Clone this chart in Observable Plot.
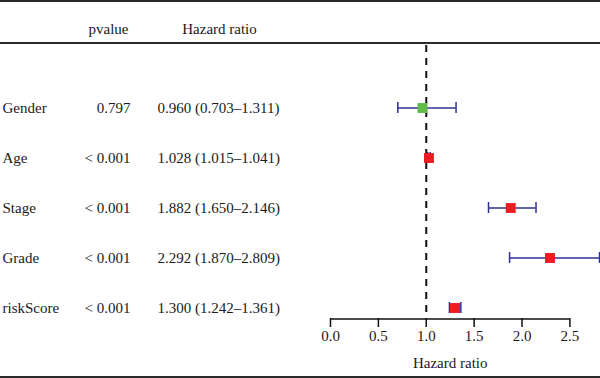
<!DOCTYPE html>
<html>
<head>
<meta charset="utf-8">
<script src="https://cdn.jsdelivr.net/npm/d3@7"></script>
<script src="https://cdn.jsdelivr.net/npm/@observablehq/plot@0.6"></script>
<style>
  html, body { margin: 0; padding: 0; background: #fff; }
  #wrap { position: relative; width: 600px; height: 378px; overflow: hidden; font-family: "Liberation Serif", serif; }
  .hline { position: absolute; left: 0; width: 600px; background: #2a2a2a; }
  #wrap svg { position: absolute; left: 0; top: 0; }
</style>
</head>
<body>
<div id="wrap">
  <div class="hline" style="top:0px;height:2px"></div>
  <div class="hline" style="top:42px;height:2px"></div>
  <div class="hline" style="top:376px;height:2px"></div>
</div>
<script>
const variables = ["Gender", "Age", "Stage", "Grade", "riskScore"];
const pvalues = ["0.797", "< 0.001", "< 0.001", "< 0.001", "< 0.001"];
const hazardRatio = [0.960, 1.028, 1.882, 2.292, 1.300];
const lower = [0.703, 1.015, 1.650, 1.870, 1.242];
const upper = [1.311, 1.041, 2.146, 2.809, 1.361];
const xTicks = [0, 0.5, 1.0, 1.5, 2.0, 2.5];
const headers = ["pvalue", "Hazard ratio"];
const axisTitle = "Hazard ratio";

const rows = variables.map((v, i) => ({
  name: v,
  p: pvalues[i],
  hr: hazardRatio[i],
  lo: lower[i],
  hi: upper[i],
  label: `${hazardRatio[i].toFixed(3)} (${lower[i].toFixed(3)}\u2013${upper[i].toFixed(3)})`,
  sig: pvalues[i].startsWith("<")
}));

const ink = "#1a1a1a";

const chart = Plot.plot({
  width: 600,
  height: 378,
  marginTop: 45,
  marginBottom: 60,
  marginLeft: 330,
  marginRight: 1,
  style: { fontFamily: "'Liberation Serif', serif", fontSize: "15px", color: ink, background: "transparent" },
  x: { domain: [0, d3.max(upper)], axis: null },
  y: { type: "band", domain: variables, range: [62.5, 351.5], padding: 0.78, axis: null },
  marks: [
    // reference line at HR = 1
    Plot.ruleX([1], { stroke: "#111", strokeWidth: 2, strokeDasharray: "7,6" }),
    // axis line over tick range
    Plot.ruleY([variables[variables.length - 1]], { y: d => d, x1: d3.min(xTicks), x2: d3.max(xTicks), dy: 11, stroke: "#111", strokeWidth: 1.5 }),
    Plot.axisX({ ticks: xTicks, tickSize: 9, tickPadding: 3, tickFormat: d3.format(".1f"), fontSize: 15, stroke: "#111", strokeWidth: 1.5, fill: ink }),
    Plot.text([axisTitle], { x: () => d3.mean([d3.min(xTicks), d3.max(xTicks)]), frameAnchor: "bottom", dy: 49, fontSize: 15, fill: ink }),
    // confidence intervals
    Plot.ruleY(rows, { y: "name", x1: "lo", x2: "hi", stroke: "#2e3192", strokeWidth: 1.5 }),
    Plot.tickX(rows, { x: "lo", y: "name", stroke: "#2e3192", strokeWidth: 1.5 }),
    Plot.tickX(rows, { x: "hi", y: "name", stroke: "#2e3192", strokeWidth: 1.5 }),
    // point estimates
    Plot.dot(rows, { x: "hr", y: "name", symbol: "square", r: 5.6, fill: d => d.sig ? "#ec1c24" : "#62bb46", stroke: null }),
    // table columns
    Plot.text(rows, { y: "name", text: "name", frameAnchor: "left", dx: -328, textAnchor: "start", fill: ink }),
    Plot.text(rows, { y: "name", text: "p", frameAnchor: "left", dx: -200, textAnchor: "end", fill: ink }),
    Plot.text(rows, { y: "name", text: "label", frameAnchor: "left", dx: -173, textAnchor: "start", fill: ink }),
    // headers
    Plot.text([headers[0]], { frameAnchor: "top-left", dx: -222, dy: -22, textAnchor: "middle", fill: ink }),
    Plot.text([headers[1]], { frameAnchor: "top-left", dx: -111, dy: -22, textAnchor: "middle", fill: ink })
  ]
});
document.getElementById("wrap").appendChild(chart);
</script>
</body>
</html>
